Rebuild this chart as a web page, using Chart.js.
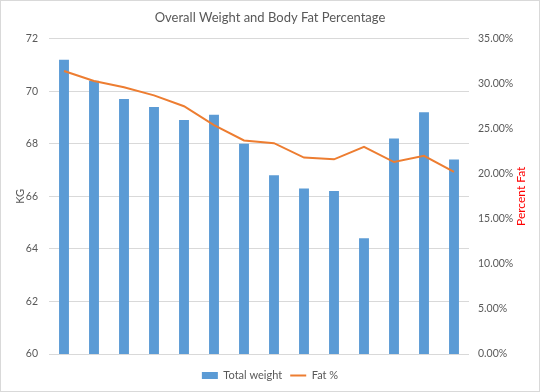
<!DOCTYPE html>
<html>
<head>
<meta charset="utf-8">
<script src="https://cdn.jsdelivr.net/npm/chart.js@4"></script>
<style>
html,body{margin:0;padding:0;background:#fff;}
#wrap{width:538px;height:390px;border:1px solid #d9d9d9;position:relative;}
canvas{display:block;}
</style>
</head>
<body>
<div id="wrap"><canvas id="c" width="538" height="390"></canvas></div>
<script>
const categories = ['1','2','3','4','5','6','7','8','9','10','11','12','13','14'];
const totalWeight = [71.2, 70.4, 69.7, 69.4, 68.9, 69.1, 68.0, 66.8, 66.3, 66.2, 64.4, 68.2, 69.2, 67.4];
const fatPercent = [0.314, 0.303, 0.296, 0.287, 0.275, 0.254, 0.237, 0.234, 0.218, 0.216, 0.230, 0.213, 0.220, 0.202];
const kgTicks = [60, 62, 64, 66, 68, 70, 72];
const pctTicks = [0, 0.05, 0.10, 0.15, 0.20, 0.25, 0.30, 0.35];

const FONT = 'Lato, "Open Sans", sans-serif';
const GRAY = '#595959';

const rightTitle = {
  id: 'rightTitle',
  afterDraw(chart) {
    const ctx = chart.ctx;
    const s = chart.scales.y1;
    ctx.save();
    ctx.translate(520, (s.top + s.bottom) / 2);
    ctx.rotate(-Math.PI / 2);
    ctx.fillStyle = '#FF0000';
    ctx.font = '12px ' + FONT;
    ctx.textAlign = 'center';
    ctx.textBaseline = 'middle';
    ctx.fillText('Percent Fat', 0, 0);
    ctx.restore();
  }
};

new Chart(document.getElementById('c'), {
  data: {
    labels: categories,
    datasets: [
      {
        type: 'line',
        label: 'Fat %',
        data: fatPercent,
        yAxisID: 'y1',
        borderColor: '#ED7D31',
        backgroundColor: '#ED7D31',
        borderWidth: 2,
        pointRadius: 0,
        tension: 0,
        order: 0
      },
      {
        type: 'bar',
        label: 'Total weight',
        data: totalWeight,
        yAxisID: 'y',
        backgroundColor: '#5B9BD5',
        borderColor: '#5B9BD5',
        categoryPercentage: 1,
        barPercentage: 0.33,
        order: 1
      }
    ]
  },
  plugins: [rightTitle],
  options: {
    responsive: false,
    animation: false,
    devicePixelRatio: 1,
    layout: { padding: { left: 0, right: 0, top: 0, bottom: 0 } },
    plugins: {
      title: {
        display: true,
        text: 'Overall Weight and Body Fat Percentage',
        color: GRAY,
        font: { family: FONT, size: 13, weight: 'normal' },
        padding: { top: 9, bottom: 13 }
      },
      legend: {
        position: 'bottom',
        labels: {
          color: GRAY,
          font: { family: FONT, size: 11 },
          usePointStyle: true,
          pointStyleWidth: 16,
          boxHeight: 7,
          padding: 8,
          generateLabels: (chart) => {
            const ds = chart.data.datasets;
            const order = [1, 0];
            return order.map((i) => {
              const d = ds[i];
              return {
                text: d.label,
                fillStyle: d.backgroundColor,
                strokeStyle: d.borderColor,
                lineWidth: d.type === 'line' ? 2 : 0,
                pointStyle: d.type === 'line' ? 'line' : 'rect',
                fontColor: GRAY,
                datasetIndex: i,
                hidden: false
              };
            });
          }
        }
      },
      tooltip: { enabled: false }
    },
    scales: {
      x: {
        offset: true,
        grid: { display: false, drawTicks: false },
        border: { display: false },
        ticks: { display: false },
        afterFit: (s) => { s.height = 8; }
      },
      y: {
        position: 'left',
        min: 60, max: 72,
        afterBuildTicks: (s) => { s.ticks = kgTicks.map(v => ({ value: v })); },
        afterFit: (s) => { s.width = 48; },
        grid: { color: '#d9d9d9', drawTicks: false },
        border: { display: false },
        ticks: { color: GRAY, font: { family: FONT, size: 10.5 }, padding: 11 },
        title: { display: true, text: 'KG', color: GRAY, font: { family: FONT, size: 11 }, padding: { top: 13, bottom: 0 } }
      },
      y1: {
        position: 'right',
        min: 0, max: 0.35,
        afterBuildTicks: (s) => { s.ticks = pctTicks.map(v => ({ value: v })); },
        afterFit: (s) => { s.width = 70; },
        grid: { display: false, drawTicks: false },
        border: { display: false },
        ticks: { color: GRAY, font: { family: FONT, size: 10.5 }, padding: 9,
          callback: (v) => (v * 100).toFixed(2) + '%' }
      }
    }
  }
});
</script>
</body>
</html>
